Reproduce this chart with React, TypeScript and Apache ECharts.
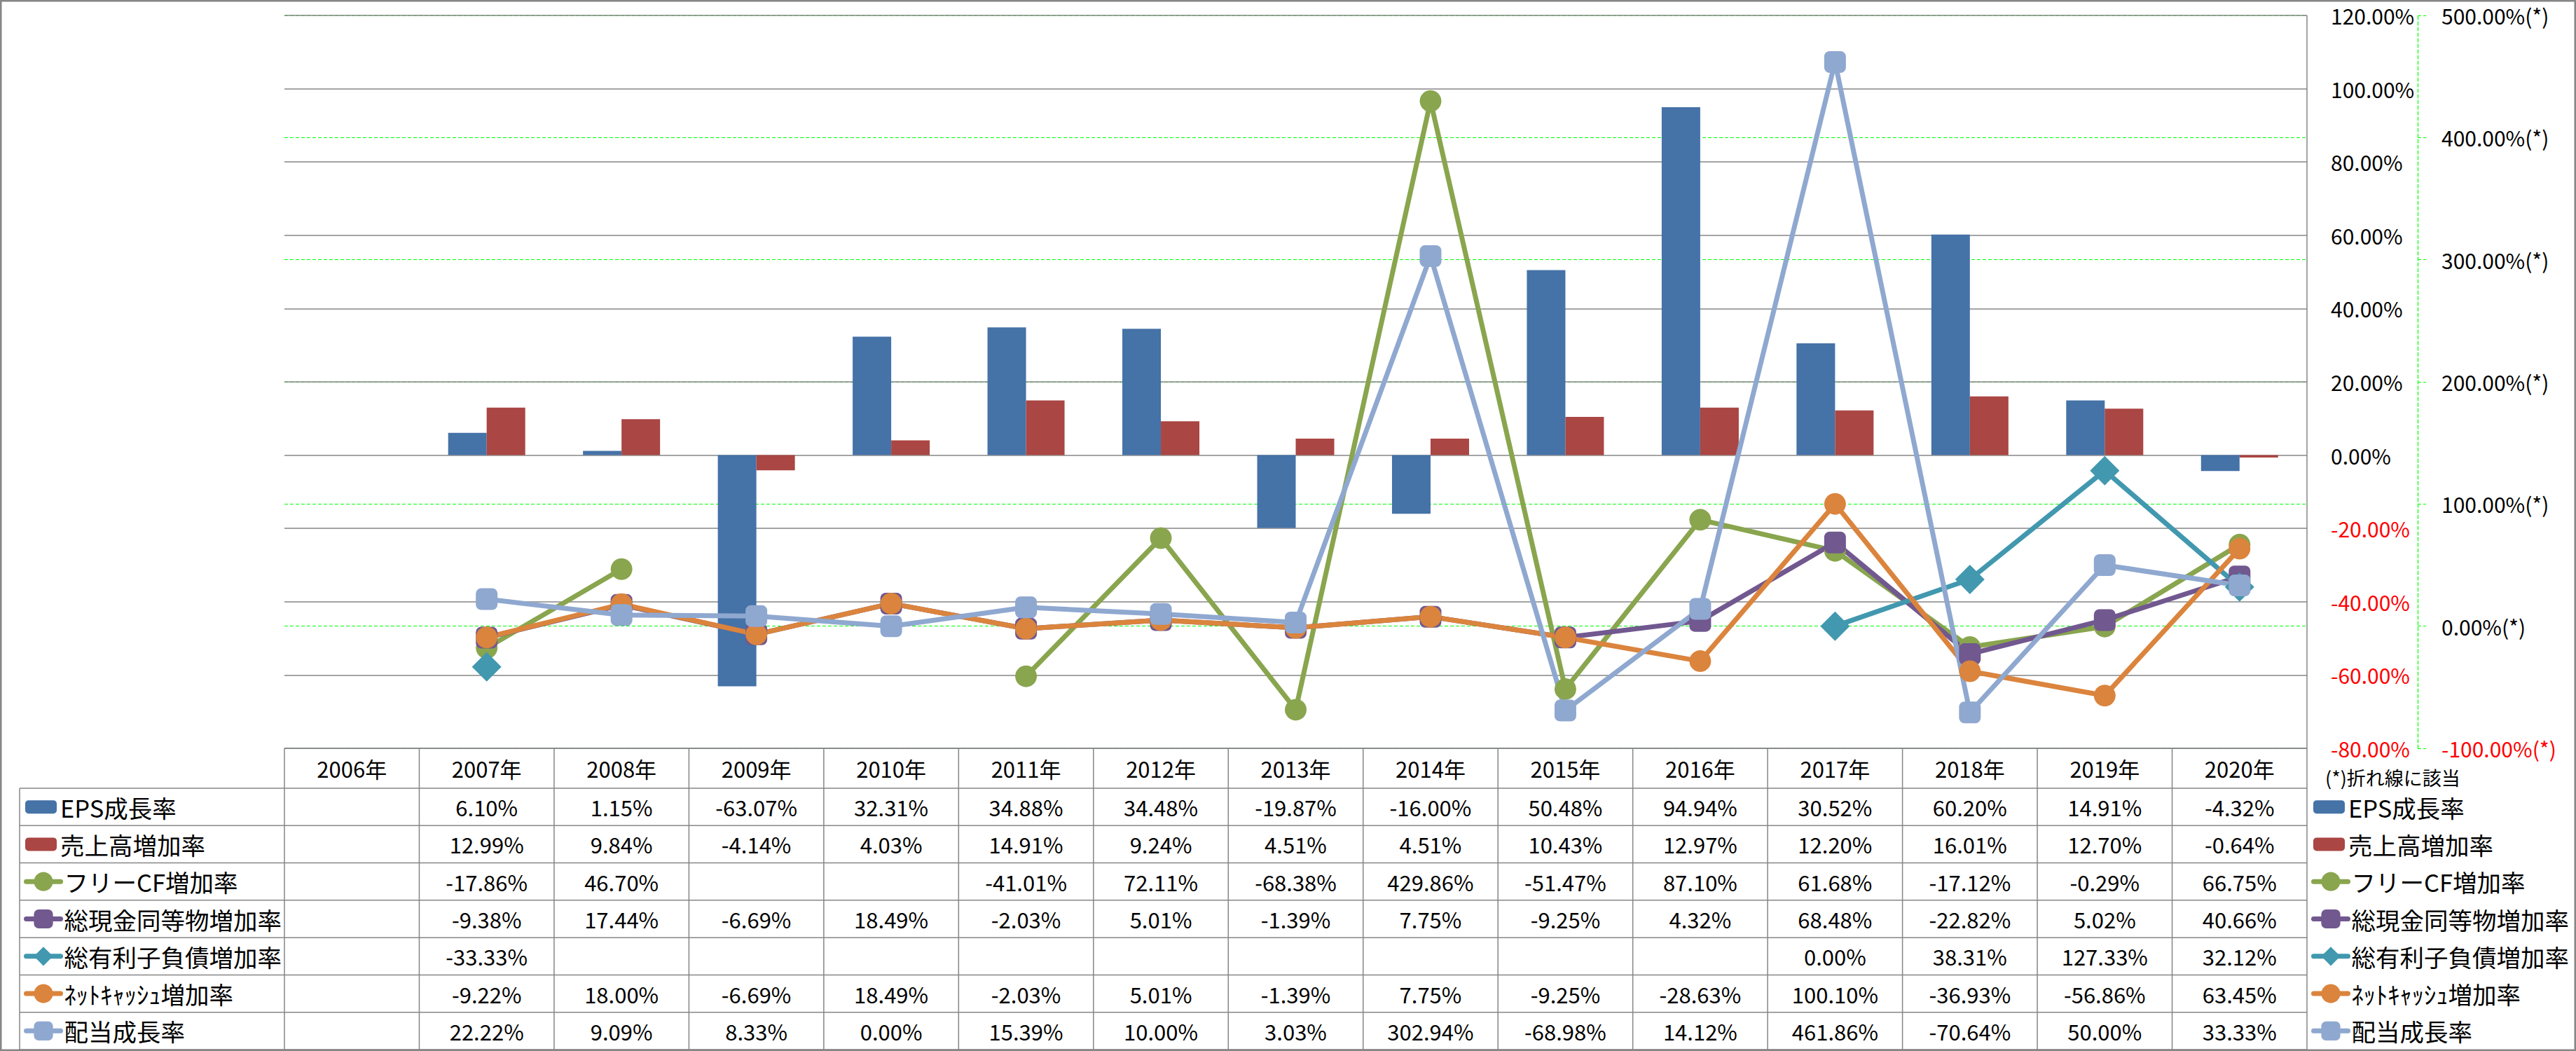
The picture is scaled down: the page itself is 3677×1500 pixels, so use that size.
import { useEffect, useRef } from 'react';
import * as echarts from 'echarts';

const FONT = "'Noto Sans CJK JP', 'Noto Sans', sans-serif";

// ---------- data ----------
const years = ['2006年', '2007年', '2008年', '2009年', '2010年', '2011年', '2012年', '2013年', '2014年', '2015年', '2016年', '2017年', '2018年', '2019年', '2020年'];
const epsGrowth = [null, 6.10, 1.15, -63.07, 32.31, 34.88, 34.48, -19.87, -16.00, 50.48, 94.94, 30.52, 60.20, 14.91, -4.32];
const salesGrowth = [null, 12.99, 9.84, -4.14, 4.03, 14.91, 9.24, 4.51, 4.51, 10.43, 12.97, 12.20, 16.01, 12.70, -0.64];
const freeCfGrowth = [null, -17.86, 46.70, null, null, -41.01, 72.11, -68.38, 429.86, -51.47, 87.10, 61.68, -17.12, -0.29, 66.75];
const cashGrowth = [null, -9.38, 17.44, -6.69, 18.49, -2.03, 5.01, -1.39, 7.75, -9.25, 4.32, 68.48, -22.82, 5.02, 40.66];
const debtGrowth = [null, -33.33, null, null, null, null, null, null, null, null, null, 0.00, 38.31, 127.33, 32.12];
const netCashGrowth = [null, -9.22, 18.00, -6.69, 18.49, -2.03, 5.01, -1.39, 7.75, -9.25, -28.63, 100.10, -36.93, -56.86, 63.45];
const dividendGrowth = [null, 22.22, 9.09, 8.33, 0.00, 15.39, 10.00, 3.03, 302.94, -68.98, 14.12, 461.86, -70.64, 50.00, 33.33];

const barNames = ['EPS成長率', '売上高増加率'];
const lineNames = ['フリーCF増加率', '総現金同等物増加率', '総有利子負債増加率', 'ﾈｯﾄｷｬｯｼｭ増加率', '配当成長率'];
const barValues = [epsGrowth, salesGrowth];
const lineValues = [freeCfGrowth, cashGrowth, debtGrowth, netCashGrowth, dividendGrowth];

const leftAxisMin = -80;
const leftAxisMax = 120;
const leftAxisStep = 20;
const rightAxisMin = -100;
const rightAxisMax = 500;
const rightAxisStep = 100;
const lineAxisNote = '(*)折れ線に該当';

// ---------- style ----------
const barColors = ['#4572A7', '#AA4643'];
const lineColors = ['#89A54E', '#71588F', '#4198AF', '#DB843D', '#8FA8D0'];
const lineSymbols = ['circle', 'roundRect', 'diamond', 'circle', 'roundRect'];
const lineSymbolSizes = [31, 31, 42, 31, 31];
const GRAY = '#868686';
const GREEN = '#00FF00';

// ---------- layout ----------
const CHART_W = 3677;
const CHART_H = 1500;
const PLOT_L = 406;
const PLOT_R = 3293;
const PLOT_T = 22;
const PLOT_B = 1068;
const TABLE_L = 28;
const HEADER_H = 57;
const TABLE_BOTTOM = 1498;

export default function App() {
  const ref = useRef<HTMLDivElement>(null);

  useEffect(() => {
    if (!ref.current) return;
    const chart = echarts.init(ref.current, undefined, { renderer: 'svg' });

    const tableNames = [...barNames, ...lineNames];
    const tableValues = [...barValues, ...lineValues];
    const bodyTop = PLOT_B + HEADER_H;
    const rowH = (TABLE_BOTTOM - bodyTop) / tableNames.length;
    const colW = (PLOT_R - PLOT_L) / years.length;

    const leftTicks: number[] = [];
    for (let v = leftAxisMin; v <= leftAxisMax + 1e-9; v += leftAxisStep) leftTicks.push(v);

    const graphics: any[] = [];
    const tableLine = { stroke: GRAY, lineWidth: 1.5 };
    // header top line of the data table
    graphics.push({ type: 'line', silent: true, z: 10, shape: { x1: PLOT_L, y1: PLOT_B, x2: PLOT_R, y2: PLOT_B }, style: tableLine });
    for (let r = 0; r <= tableNames.length; r++) {
      const y = bodyTop + r * rowH;
      graphics.push({ type: 'line', silent: true, shape: { x1: TABLE_L, y1: y, x2: PLOT_R, y2: y }, style: tableLine });
    }
    graphics.push({ type: 'line', silent: true, shape: { x1: TABLE_L, y1: bodyTop, x2: TABLE_L, y2: TABLE_BOTTOM }, style: tableLine });
    for (let c = 0; c <= years.length; c++) {
      const x = PLOT_L + c * colW;
      graphics.push({ type: 'line', silent: true, shape: { x1: x, y1: PLOT_B, x2: x, y2: TABLE_BOTTOM }, style: tableLine });
    }
    // primary value axis line (right edge of the plot)
    graphics.push({ type: 'line', silent: true, shape: { x1: PLOT_R, y1: PLOT_T, x2: PLOT_R, y2: PLOT_B }, style: tableLine });
    tableValues.forEach((vals, r) => {
      vals.forEach((v, c) => {
        if (v === null || v === undefined) return;
        graphics.push({
          type: 'text',
          silent: true,
          x: PLOT_L + (c + 0.5) * colW,
          y: bodyTop + (r + 0.5) * rowH,
          style: {
            text: `${(v as number).toFixed(2)}%`,
            fill: '#000',
            fontSize: 31,
            fontFamily: FONT,
            align: 'center',
            verticalAlign: 'middle',
          },
        });
      });
    });
    graphics.push({
      type: 'text',
      silent: true,
      x: 3319,
      y: PLOT_B + 41,
      style: { text: lineAxisNote, fill: '#000', fontSize: 27, fontFamily: FONT, align: 'left', verticalAlign: 'middle' },
    });
    graphics.push({
      type: 'rect',
      silent: true,
      z: 100,
      shape: { x: 1.25, y: 1.25, width: CHART_W - 2.5, height: CHART_H - 2.5 },
      style: { fill: 'none', stroke: GRAY, lineWidth: 2.5 },
    });

    const legendText = { fontSize: 34.5, fontFamily: FONT, color: '#000', lineHeight: rowH };
    const mkLegend = (names: string[], left: number, top: number, isLine: boolean) => ({
      data: names,
      orient: 'vertical',
      left,
      top,
      padding: 0,
      itemGap: 0,
      itemWidth: isLine ? 49 : 45,
      itemHeight: isLine ? 34 : 19,
      selectedMode: false,
      textStyle: legendText,
      ...(isLine ? { lineStyle: { width: 7 } } : {}),
    });

    const negColor = (v: any) => (Number(v) < 0 ? '#FF0000' : '#000000');

    const option: any = {
      animation: false,
      backgroundColor: '#ffffff',
      textStyle: { fontFamily: FONT },
      grid: { left: PLOT_L, right: CHART_W - PLOT_R, top: PLOT_T, bottom: CHART_H - PLOT_B, containLabel: false },
      legend: [
        mkLegend(barNames, 36, bodyTop, false),
        mkLegend(lineNames, 34, bodyTop + barNames.length * rowH, true),
        mkLegend(barNames, 3302, bodyTop, false),
        mkLegend(lineNames, 3299, bodyTop + barNames.length * rowH, true),
      ],
      xAxis: {
        type: 'category',
        data: years,
        position: 'bottom',
        boundaryGap: true,
        axisLine: { show: false, onZero: false },
        axisTick: { show: false },
        splitLine: { show: false },
        axisLabel: {
          interval: 0,
          margin: 28,
          verticalAlign: 'middle',
          fontSize: 31,
          fontFamily: FONT,
          color: '#000',
        },
      },
      yAxis: [
        {
          type: 'value',
          position: 'right',
          offset: 0,
          min: leftAxisMin,
          max: leftAxisMax,
          interval: leftAxisStep,
          axisLine: { show: false, onZero: false },
          axisTick: { show: false },
          splitLine: { show: false },
          axisLabel: {
            margin: 34,
            fontSize: 30,
            fontFamily: FONT,
            color: negColor,
            formatter: (v: number) => `${v.toFixed(2)}%`,
          },
        },
        {
          type: 'value',
          position: 'right',
          offset: 158,
          min: rightAxisMin,
          max: rightAxisMax,
          interval: rightAxisStep,
          axisLine: { show: true, onZero: false, lineStyle: { color: GREEN, width: 1.2, type: [5, 3] } },
          axisTick: { show: true, inside: false, length: 12, lineStyle: { color: GREEN, width: 1.2, type: [5, 3] } },
          splitLine: { show: true, lineStyle: { color: [GREEN], width: 1.2, type: [5, 3] } },
          axisLabel: {
            margin: 34,
            fontSize: 30,
            fontFamily: FONT,
            color: negColor,
            formatter: (v: number) => `${v.toFixed(2)}%(*)`,
          },
        },
      ],
      graphic: { elements: graphics },
      series: [
        ...barNames.map((name, i) => ({
          name,
          type: 'bar',
          yAxisIndex: 0,
          data: barValues[i],
          barWidth: 55,
          barGap: '0%',
          clip: false,
          z: 2,
          itemStyle: { color: barColors[i] },
          ...(i === 0
            ? {
                markLine: {
                  silent: true,
                  symbol: 'none',
                  z: 1,
                  label: { show: false },
                  lineStyle: { color: GRAY, width: 1.5, type: 'solid' },
                  emphasis: { disabled: true },
                  data: leftTicks.map((v) => ({ yAxis: v })),
                },
              }
            : {}),
        })),
        ...lineNames.map((name, i) => ({
          name,
          type: 'line',
          yAxisIndex: 1,
          data: lineValues[i],
          connectNulls: false,
          symbol: lineSymbols[i],
          symbolSize: lineSymbolSizes[i],
          showAllSymbol: true,
          clip: false,
          z: 3,
          lineStyle: { width: 7, color: lineColors[i], cap: 'round', join: 'round' },
          itemStyle: { color: lineColors[i] },
        })),
      ],
    };

    chart.setOption(option);
    return () => chart.dispose();
  }, []);

  return (
    <div
      ref={ref}
      style={{ position: 'fixed', left: 0, top: 0, width: CHART_W, height: CHART_H, background: '#fff' }}
    />
  );
}
